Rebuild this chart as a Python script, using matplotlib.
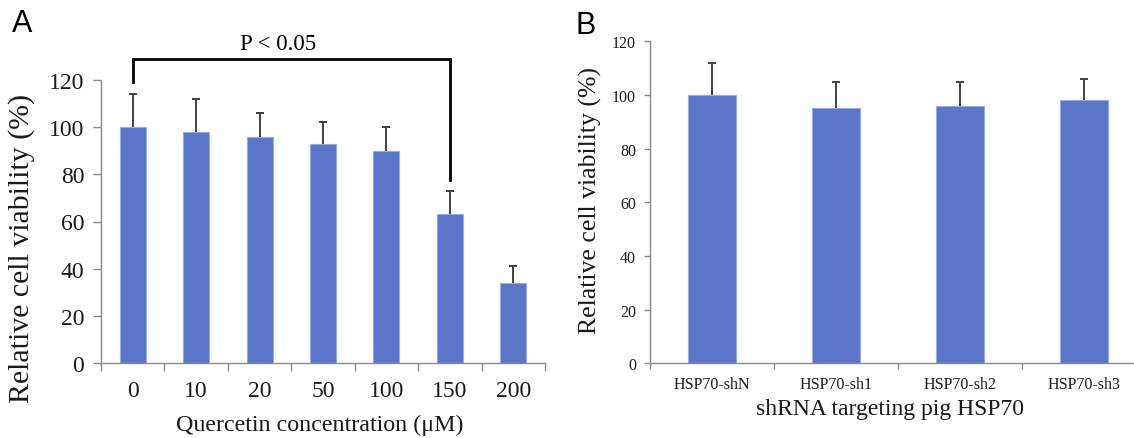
import numpy as np
import matplotlib
matplotlib.use("Agg")
import matplotlib.pyplot as plt

# ---- data ----
conc_labels = ["0", "10", "20", "50", "100", "150", "200"]
conc_values = [100, 98, 96, 93, 90, 63, 34]
conc_errors = [14, 14, 10, 9, 10, 10, 7]

sh_labels = ["HSP70-shN", "HSP70-sh1", "HSP70-sh2", "HSP70-sh3"]
sh_values = [100, 95, 96, 98]
sh_errors = [12, 10, 9, 8]

yticks = [0, 20, 40, 60, 80, 100, 120]

BAR = "#5b76c8"
EDGE = "#9aabe0"
ERR = "#404040"
SPINE = "#8a8a8a"
SERIF = "Liberation Serif"

W, H = 1134, 439
fig = plt.figure(figsize=(W / 100, H / 100), dpi=100)


def frac(x0, y_top, x1, y_bottom):
    return [x0 / W, 1 - y_bottom / H, (x1 - x0) / W, (y_bottom - y_top) / H]


def style_axes(ax, n, tick_fs, ytick_len, xtick_len, ypad, xpad):
    for s in ["top", "right"]:
        ax.spines[s].set_visible(False)
    for s in ["left", "bottom"]:
        ax.spines[s].set_color(SPINE)
        ax.spines[s].set_linewidth(1.0)
    ax.set_ylim(0, 120)
    ax.set_xlim(-0.5, n - 0.5)
    ax.set_yticks(yticks)
    ax.set_yticklabels([str(t) for t in yticks], fontsize=tick_fs, fontfamily=SERIF)
    ax.set_xticks(np.arange(n + 1) - 0.5, minor=True)
    ax.tick_params(axis="y", direction="out", length=ytick_len, width=1.0,
                   color=SPINE, pad=ypad, labelcolor="#1a1a1a")
    ax.tick_params(axis="x", which="major", length=0, pad=xpad,
                   labelcolor="#1a1a1a")
    ax.tick_params(axis="x", which="minor", direction="out", length=xtick_len,
                   width=1.0, color=SPINE)


def upper_errorbars(ax, x, vals, errs):
    _, caps, _ = ax.errorbar(x, vals, yerr=[np.zeros(len(errs)), errs],
                             fmt="none", ecolor=ERR, elinewidth=1.4, capsize=3,
                             capthick=1.4, zorder=3)
    # hide the lower caps (one-sided error bars)
    if len(caps) >= 2:
        caps[0].set_visible(False)


# ---- Panel A ----
axA = fig.add_axes(frac(101, 81, 545, 364))
xA = np.arange(len(conc_values))
axA.bar(xA, conc_values, width=0.41, color=BAR, edgecolor=EDGE, linewidth=0.8, zorder=2)
upper_errorbars(axA, xA, conc_values, conc_errors)
style_axes(axA, len(conc_values), 17, 6, 6, 6, 12)
axA.set_xticks(xA)
axA.set_xticklabels(conc_labels, fontsize=17, fontfamily=SERIF)

# significance bracket
bx0, bx1 = xA[0], xA[5]
axA.plot([bx0, bx0, bx1, bx1], [119.2, 128.9, 128.9, 77.6], color="black",
         linewidth=2.0, clip_on=False, solid_joinstyle="miter", zorder=4)
axA.text(2.29, 133.2, "P < 0.05", ha="center", va="baseline",
         fontsize=16.5, fontfamily=SERIF, clip_on=False)

fig.text(22 / W, 1 - 248 / H, "Relative cell viability (%)", rotation=90,
         ha="center", va="center", fontsize=21.5, fontfamily=SERIF, color="#1a1a1a")
fig.text(320 / W, 1 - 425 / H, "Quercetin concentration (\u03bcM)",
         ha="center", va="center", fontsize=17.3, fontfamily=SERIF, color="#1a1a1a")
fig.text(12 / W, 1 - 24 / H, "A", ha="left", va="center", fontsize=22,
         fontfamily="Liberation Sans")

# ---- Panel B ----
axB = fig.add_axes(frac(650, 42.3, 1146, 364.4))
xB = np.arange(len(sh_values))
axB.bar(xB, sh_values, width=0.395, color=BAR, edgecolor=EDGE, linewidth=0.8, zorder=2)
upper_errorbars(axB, xB, sh_values, sh_errors)
style_axes(axB, len(sh_values), 11.5, 4, 4, 6, 9)
axB.set_xticks(xB)
axB.set_xticklabels(sh_labels, fontsize=11.5, fontfamily=SERIF)

fig.text(590 / W, 1 - 201 / H, "Relative cell viability (%)", rotation=90,
         ha="center", va="center", fontsize=18.5, fontfamily=SERIF, color="#1a1a1a")
fig.text(890 / W, 1 - 410 / H, "shRNA targeting pig HSP70",
         ha="center", va="center", fontsize=17, fontfamily=SERIF, color="#1a1a1a")
fig.text(576 / W, 1 - 26 / H, "B", ha="left", va="center", fontsize=22,
         fontfamily="Liberation Sans")

fig.savefig("out.png", dpi=100)
